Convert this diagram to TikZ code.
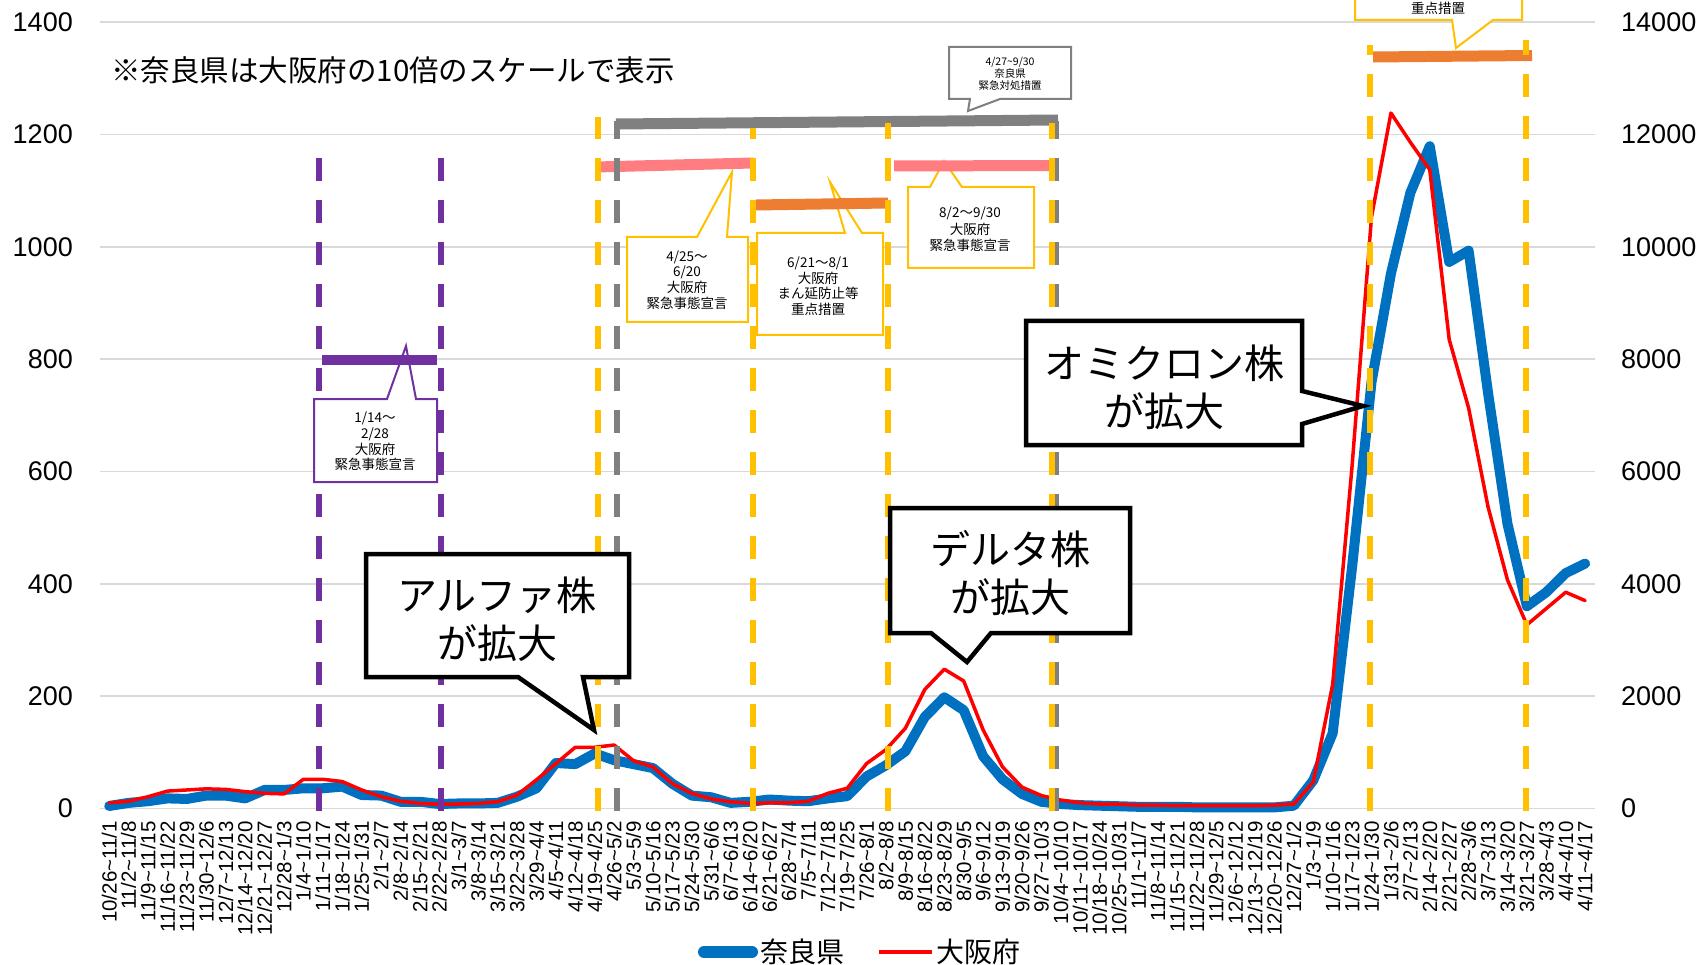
\documentclass[tikz,border=0pt]{standalone}
\usepackage{fontspec}
\setmainfont{Noto Sans CJK JP}
\newfontfamily\numfont{Liberation Sans}
\newcommand\myfs[2]{\fontsize{#1}{#2}\selectfont}
\newcommand\tld{\textasciitilde}
\definecolor{narablue}{HTML}{0070C0}
\definecolor{osakared}{HTML}{FF0000}
\definecolor{gridgray}{HTML}{D9D9D9}
\definecolor{kpurple}{HTML}{7030A0}
\definecolor{kyellow}{HTML}{FFC000}
\definecolor{kgray}{HTML}{808080}
\definecolor{kpink}{HTML}{FF7C80}
\definecolor{korange}{HTML}{ED7D31}
\tikzset{
  gridline/.style={gridgray, line width=1.6pt},
  vline/.style={line width=5.5pt, dash pattern=on 23pt off 19pt},
  periodbar/.style={line width=11pt},
  callout/.style={fill=white, line width=2pt, line join=miter},
  bigcallout/.style={fill=white, draw=black, line width=4.5pt, line join=miter},
  ylab/.style={inner sep=0pt, font=\numfont\myfs{27}{27}},
  xlab/.style={rotate=90, anchor=east, inner sep=0pt, font=\numfont\myfs{20.5}{20.5}},
  smalltext/.style={align=center, inner sep=0pt, font=\myfs{13.5}{15.6}},
  bigtext/.style={align=center, inner sep=0pt, font=\myfs{40}{48}},
}
\newcommand\xl[3]{\node[xlab] (xl#1) at ({109.2+19.42*#1},821) {#2\tld#3};}
\begin{document}
\begin{tikzpicture}[x=1pt,y=-1pt]
\useasboundingbox (0,0) rectangle (1702,965);
\clip (0,0) rectangle (1702,965);

% grid lines and axis labels
\foreach \k/\l/\r in {0/0/0,1/200/2000,2/400/4000,3/600/6000,4/800/8000,5/1000/10000,6/1200/12000,7/1400/14000}{
  \draw[gridline] (100,{808.5-112.35*\k}) -- (1595,{808.5-112.35*\k});
  \node[ylab, anchor=east] (yl\k) at (73,{808.5-112.35*\k}) {\l};
  \node[ylab, anchor=west] (yr\k) at (1621,{808.5-112.35*\k}) {\r};
}

% data
\begin{scope}[shift={(109.2pt,-808.5pt)}, x=19.42pt, y=0.56175pt]
\draw[narablue, line width=10pt, line join=round, line cap=round] plot coordinates {
(0,4.5) (1,10) (2,13) (3,18) (4,17) (5,23) (6,23) (7,18) (8,33) (9,33)
(10,36) (11,36) (12,39) (13,24) (14,23) (15,12) (16,12) (17,8) (18,9) (19,9)
(20,10) (21,21) (22,36) (23,81) (24,79) (25,98) (26,86) (27,79) (28,72) (29,44)
(30,23) (31,20) (32,10) (33,12) (34,16) (35,14) (36,13) (37,18) (38,22) (39,57)
(40,77) (41,102) (42,163) (43,198) (44,175) (45,93) (46,52) (47,26) (48,12) (49,8)
(50,6) (51,5) (52,4) (53,3) (54,3) (55,3) (56,2) (57,2) (58,2) (59,2)
(60,2) (61,5) (62,50) (63,134) (64,430) (65,759) (66,952) (67,1096) (68,1179) (69,973)
(70,993) (71,740) (72,507) (73,360) (74,385) (75,419) (76,436)};
\draw[osakared, line width=3.5pt, line join=round, line cap=round] plot coordinates {
(0,10) (1,13) (2,21) (3,31) (4,33) (5,35) (6,34) (7,30) (8,27) (9,26)
(10,52) (11,52) (12,48) (13,33) (14,21) (15,13) (16,9) (17,7.5) (18,8) (19,9)
(20,12) (21,24) (22,51) (23,80) (24,109) (25,109) (26,113) (27,85) (28,74) (29,44)
(30,27) (31,17) (32,12) (33,9) (34,10) (35,10) (36,13) (37,27) (38,36) (39,80)
(40,105) (41,143) (42,212) (43,248) (44,227) (45,140) (46,74) (47,38) (48,23) (49,15)
(50,10) (51,8) (52,7.5) (53,6) (54,6) (55,5) (56,5) (57,5) (58,5) (59,5)
(60,6) (61,8) (62,47) (63,221) (64,610) (65,1053) (66,1238) (67,1186) (68,1137) (69,835)
(70,713) (71,537) (72,407) (73,327) (74,356) (75,385) (76,370)};
\end{scope}

% period callouts (under bars)
\draw[callout, draw=kyellow] (627,237) -- (697,237) -- (732,172) -- (727,237) -- (748,237) -- (748,322) -- (627,322) -- cycle;
\node[smalltext] (c1text) at (687,280) {4/25～\\6/20\\大阪府\\緊急事態宣言};
\draw[callout, draw=kyellow] (757,233) -- (845,233) -- (830,182) -- (862,233) -- (883,233) -- (883,335) -- (757,335) -- cycle;
\node[smalltext] (c2text) at (818,286) {6/21～8/1\\大阪府\\まん延防止等\\重点措置};
\draw[callout, draw=kyellow] (908,187) -- (930,187) -- (944,161) -- (962,187) -- (1034,187) -- (1034,268) -- (908,268) -- cycle;
\node[smalltext, font=\myfs{13.5}{16.5}] (c3text) at (970,229.5) {8/2～9/30\\大阪府\\緊急事態宣言};
\draw[callout, draw=kgray] (949,47) -- (1071,47) -- (1071,99) -- (1000,99) -- (968,111) -- (970,99) -- (949,99) -- cycle;
\node[smalltext, font=\myfs{10.5}{12}] (c4text) at (1010,74) {4/27\tld 9/30\\奈良県\\緊急対処措置};
\draw[callout, draw=kyellow] (1355,-20) -- (1522,-20) -- (1522,20) -- (1493,20) -- (1456,48) -- (1452,20) -- (1355,20) -- cycle;
\node[smalltext] (c5text) at (1438,8) {重点措置};

% period bars
\draw[periodbar, kgray] (616,124) -- (1058,120);
\draw[periodbar, kpink] (596,167) -- (753,163);
\draw[periodbar, korange] (756,205) -- (888,203);
\draw[periodbar, kpink] (894,166) -- (1054,165.5);
\draw[periodbar, korange] (1373,57) -- (1532,55.5);

% vertical dashed lines
\draw[vline, kpurple] (319,811) -- (319,158);
\draw[vline, kpurple] (441,811) -- (441,158);
\draw[vline, kyellow, line width=6pt] (598,811) -- (598,117);
\draw[vline, kgray] (617,811) -- (617,121);
\draw[vline, kyellow, line width=6pt] (753,811) -- (753,128);
\draw[vline, kyellow, line width=6pt] (888,811) -- (888,123);
\draw[vline, kgray] (1056,811) -- (1056,121);
\draw[vline, kyellow, line width=6pt] (1052,811) -- (1052,123);
\draw[vline, kyellow, line width=6pt] (1370,811) -- (1370,45);
\draw[vline, kyellow, line width=6pt] (1526,811) -- (1526,40);

% purple callout and bar
\draw[callout, draw=kpurple] (314,399) -- (387,399) -- (406,346) -- (416,399) -- (437,399) -- (437,482) -- (314,482) -- cycle;
\node[smalltext] (c0text) at (375,441.5) {1/14～\\2/28\\大阪府\\緊急事態宣言};
\draw[periodbar, kpurple, line width=10pt] (322,360) -- (437,360);

% big callouts
\draw[bigcallout] (366,554) -- (629,554) -- (629,677) -- (583,677) -- (594,730) -- (518,677) -- (366,677) -- cycle;
\node[bigtext] (alpha) at (497,619) {アルファ株\\が拡大};
\draw[bigcallout] (890,508) -- (1130,508) -- (1130,633) -- (991,633) -- (967,662) -- (931,633) -- (890,633) -- cycle;
\node[bigtext] (delta) at (1010,573) {デルタ株\\が拡大};
\draw[bigcallout] (1026,321) -- (1302,321) -- (1302,391) -- (1363,406) -- (1302,424) -- (1302,445) -- (1026,445) -- cycle;
\node[bigtext] (omicron) at (1164,387) {オミクロン株\\が拡大};

% note
\node[anchor=west, inner sep=0pt, font=\myfs{29.5}{29.5}] (note) at (111,70) {※奈良県は大阪府の10倍のスケールで表示};

% x labels
\xl{0}{10/26}{11/1}
\xl{1}{11/2}{11/8}
\xl{2}{11/9}{11/15}
\xl{3}{11/16}{11/22}
\xl{4}{11/23}{11/29}
\xl{5}{11/30}{12/6}
\xl{6}{12/7}{12/13}
\xl{7}{12/14}{12/20}
\xl{8}{12/21}{12/27}
\xl{9}{12/28}{1/3}
\xl{10}{1/4}{1/10}
\xl{11}{1/11}{1/17}
\xl{12}{1/18}{1/24}
\xl{13}{1/25}{1/31}
\xl{14}{2/1}{2/7}
\xl{15}{2/8}{2/14}
\xl{16}{2/15}{2/21}
\xl{17}{2/22}{2/28}
\xl{18}{3/1}{3/7}
\xl{19}{3/8}{3/14}
\xl{20}{3/15}{3/21}
\xl{21}{3/22}{3/28}
\xl{22}{3/29}{4/4}
\xl{23}{4/5}{4/11}
\xl{24}{4/12}{4/18}
\xl{25}{4/19}{4/25}
\xl{26}{4/26}{5/2}
\xl{27}{5/3}{5/9}
\xl{28}{5/10}{5/16}
\xl{29}{5/17}{5/23}
\xl{30}{5/24}{5/30}
\xl{31}{5/31}{6/6}
\xl{32}{6/7}{6/13}
\xl{33}{6/14}{6/20}
\xl{34}{6/21}{6/27}
\xl{35}{6/28}{7/4}
\xl{36}{7/5}{7/11}
\xl{37}{7/12}{7/18}
\xl{38}{7/19}{7/25}
\xl{39}{7/26}{8/1}
\xl{40}{8/2}{8/8}
\xl{41}{8/9}{8/15}
\xl{42}{8/16}{8/22}
\xl{43}{8/23}{8/29}
\xl{44}{8/30}{9/5}
\xl{45}{9/6}{9/12}
\xl{46}{9/13}{9/19}
\xl{47}{9/20}{9/26}
\xl{48}{9/27}{10/3}
\xl{49}{10/4}{10/10}
\xl{50}{10/11}{10/17}
\xl{51}{10/18}{10/24}
\xl{52}{10/25}{10/31}
\xl{53}{11/1}{11/7}
\xl{54}{11/8}{11/14}
\xl{55}{11/15}{11/21}
\xl{56}{11/22}{11/28}
\xl{57}{11/29}{12/5}
\xl{58}{12/6}{12/12}
\xl{59}{12/13}{12/19}
\xl{60}{12/20}{12/26}
\xl{61}{12/27}{1/2}
\xl{62}{1/3}{1/9}
\xl{63}{1/10}{1/16}
\xl{64}{1/17}{1/23}
\xl{65}{1/24}{1/30}
\xl{66}{1/31}{2/6}
\xl{67}{2/7}{2/13}
\xl{68}{2/14}{2/20}
\xl{69}{2/21}{2/27}
\xl{70}{2/28}{3/6}
\xl{71}{3/7}{3/13}
\xl{72}{3/14}{3/20}
\xl{73}{3/21}{3/27}
\xl{74}{3/28}{4/3}
\xl{75}{4/4}{4/10}
\xl{76}{4/11}{4/17}

% legend
\coordinate (lega) at (704,952);
\coordinate (legb) at (752,952);
\draw[narablue, line width=12pt, line cap=round] (lega) -- (legb);
\node[anchor=west, inner sep=0pt, font=\myfs{28}{28}] (legnara) at (760,952) {奈良県};
\coordinate (legc) at (879,952);
\coordinate (legd) at (932,952);
\draw[osakared, line width=4pt] (legc) -- (legd);
\node[anchor=west, inner sep=0pt, font=\myfs{28}{28}] (legosaka) at (936,952) {大阪府};
\end{tikzpicture}
\end{document}
